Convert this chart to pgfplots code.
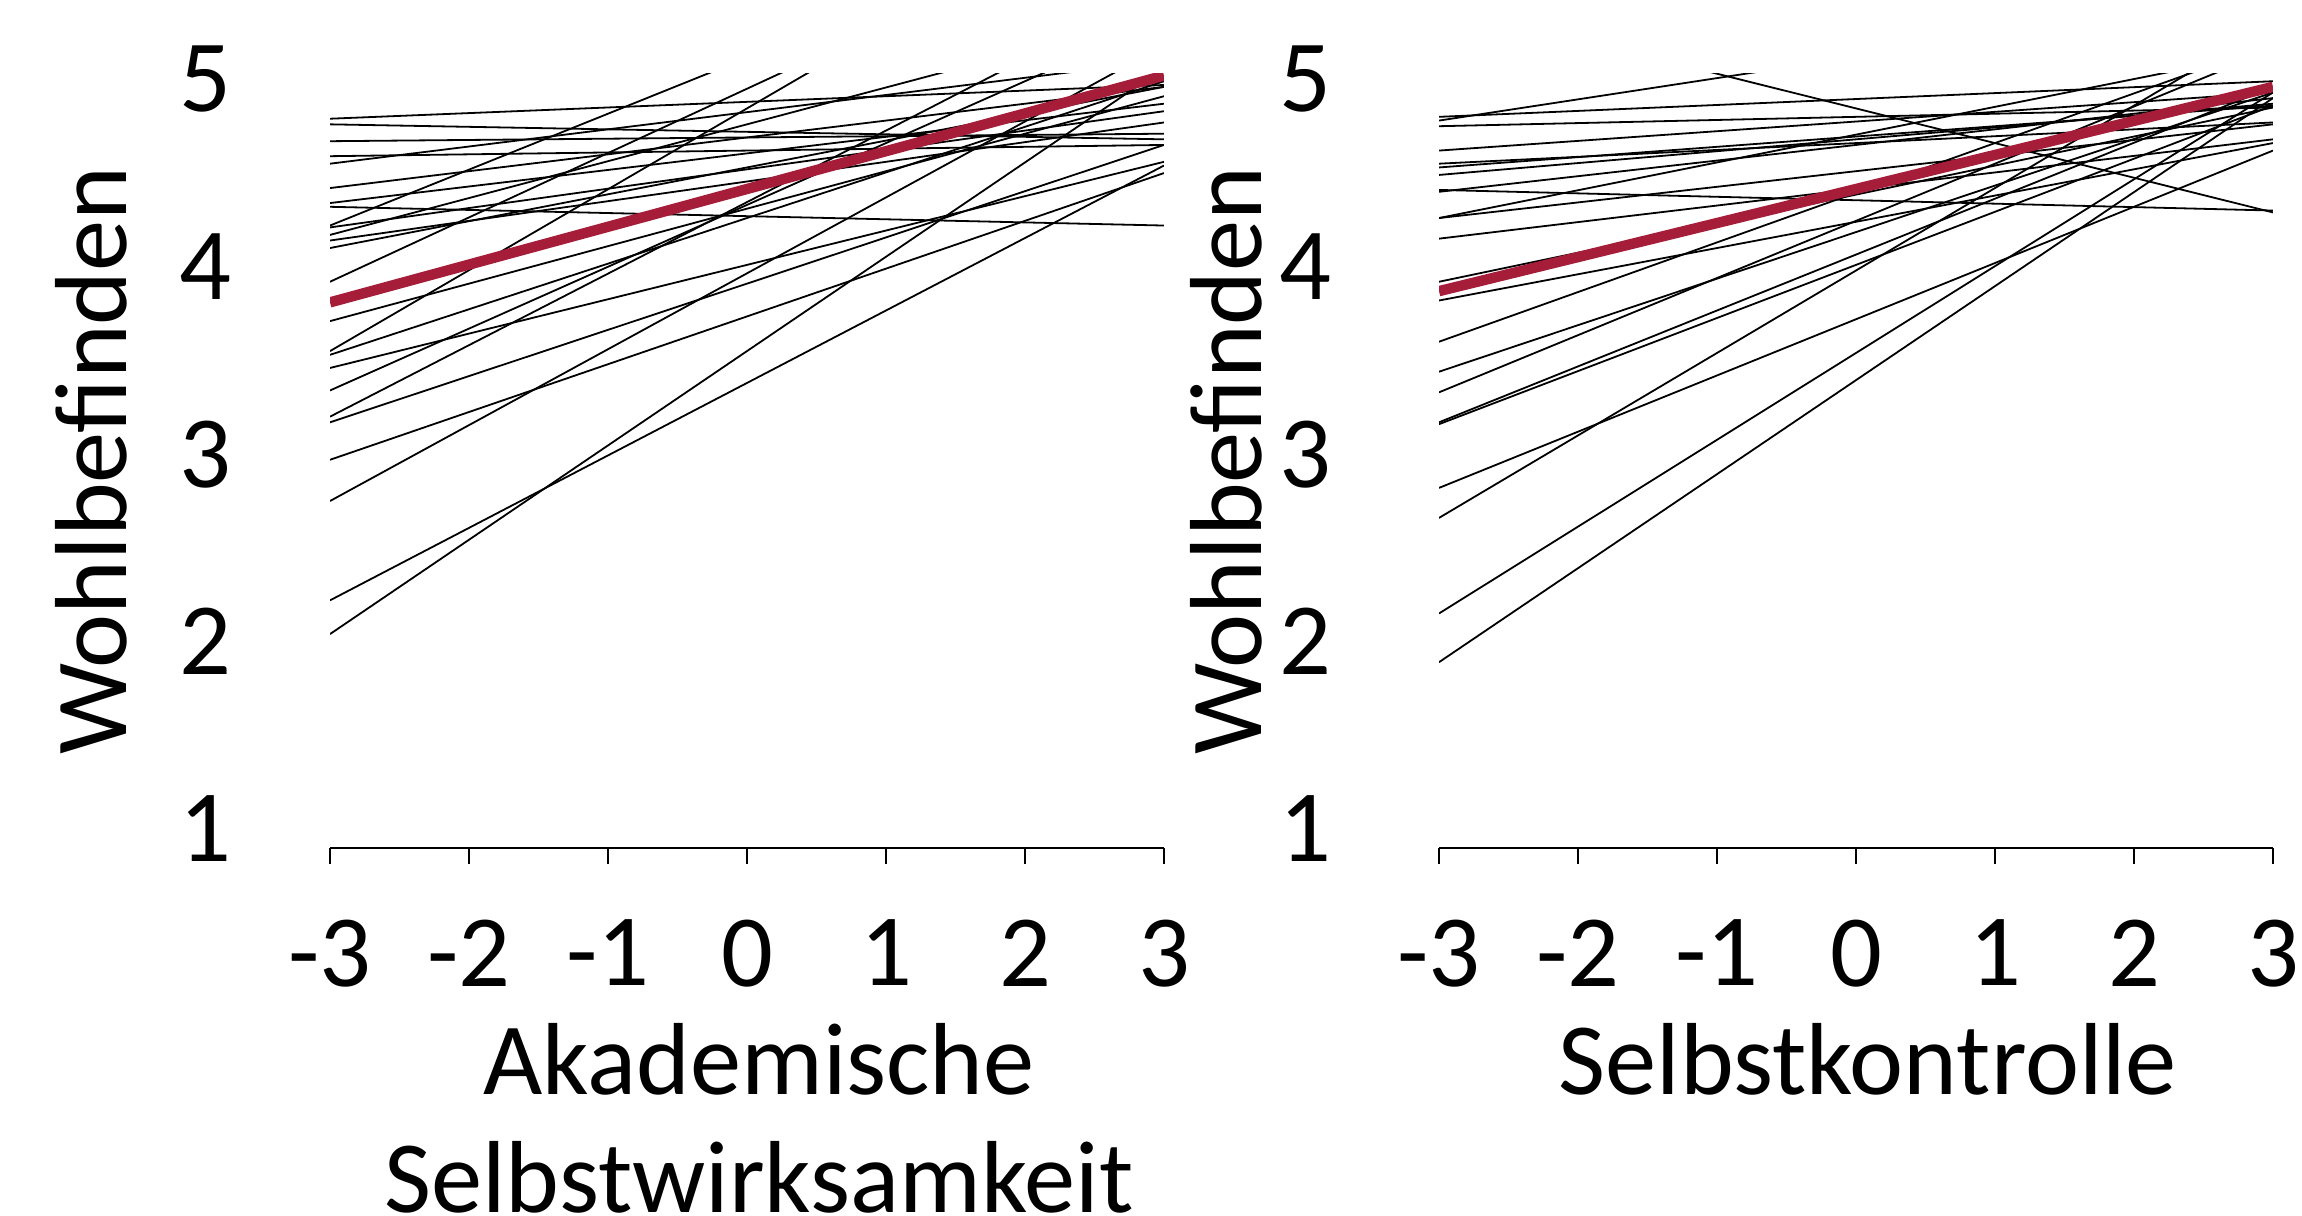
\documentclass[border=0pt]{standalone}
\usepackage{fontspec}
\setmainfont{Carlito}
\usepackage{pgfplots}
\pgfplotsset{compat=1.18}
\definecolor{fixred}{RGB}{166,29,57}

\pgfplotsset{
  panel/.style={
    scale only axis, width=208.5pt, height=193.5pt,
    xmin=-3, xmax=3, ymin=0.9, ymax=5.03,
    xtick={-3,-2,-1,0,1,2,3}, xticklabels={-3,-2,-1,0,1,2,3},
    ytick={1,2,3,4,5}, yticklabels={1,2,3,4,5},
    axis x line=bottom, axis y line=left,
    axis line style={-, black, line width=0.5pt},
    y axis line style={draw=none},
    ytick style={draw=none},
    xtick style={black, line width=0.5pt},
    tick align=outside, major tick length=4pt,
    tick label style={font=\fontsize{25.6}{30}\selectfont},
    label style={font=\fontsize{25.6}{29.5}\selectfont},
    xticklabel style={anchor=north, inner sep=0pt, yshift=-13.8pt},
    xlabel style={at={(axis description cs:0.5,0)}, anchor=north,
                  align=center, inner sep=0pt, yshift=-43.8pt, xshift=3pt},
  },
  person/.style={black, line width=0.45pt, no marks},
  fixed/.style={fixred, line width=2.6pt, no marks},
}

\begin{document}
\begin{tikzpicture}
\useasboundingbox (0,0) rectangle (575.5pt,304pt);

% Akademische Selbstwirksamkeit
\begin{axis}[panel,
  at={(82.5pt,92.06pt)}, anchor=south west,
  yticklabel style={anchor=east, inner sep=0pt, xshift=-20.5pt},
  ylabel={Wohlbefinden},
  ylabel style={at={(axis description cs:-0.2866,0.5)}, anchor=center},
  xlabel={Akademische\\Selbstwirksamkeit},
]
\addplot[person] coordinates {(-3,4.79) (3,4.97)};
\addplot[person] coordinates {(-3,4.76) (3,4.68)};
\addplot[person] coordinates {(-3,4.67) (3,4.71)};
\addplot[person] coordinates {(-3,4.59) (3,4.65)};
\addplot[person] coordinates {(-3,4.55) (3,5.10)};
\addplot[person] coordinates {(-3,4.42) (3,4.96)};
\addplot[person] coordinates {(-3,4.34) (3,4.87)};
\addplot[person] coordinates {(-3,4.32) (3,4.22)};
\addplot[person] coordinates {(-3,4.22) (3,6.01)};
\addplot[person] coordinates {(-3,4.21) (3,4.83)};
\addplot[person] coordinates {(-3,4.17) (3,5.35)};
\addplot[person] coordinates {(-3,4.14) (3,4.77)};
\addplot[person] coordinates {(-3,4.10) (3,4.96)};
\addplot[person] coordinates {(-3,3.92) (3,5.98)};
\addplot[person] coordinates {(-3,3.71) (3,4.91)};
\addplot[person] coordinates {(-3,3.55) (3,6.14)};
\addplot[person] coordinates {(-3,3.53) (3,4.99)};
\addplot[person] coordinates {(-3,3.46) (3,4.56)};
\addplot[person] coordinates {(-3,3.34) (3,5.32)};
\addplot[person] coordinates {(-3,3.20) (3,5.49)};
\addplot[person] coordinates {(-3,3.17) (3,4.65)};
\addplot[person] coordinates {(-3,2.97) (3,4.50)};
\addplot[person] coordinates {(-3,2.75) (3,5.18)};
\addplot[person] coordinates {(-3,2.22) (3,4.54)};
\addplot[person] coordinates {(-3,2.04) (3,5.06)};
\addplot[fixed] coordinates {(-3,3.81) (3,5.02)};
\end{axis}

% Selbstkontrolle
\begin{axis}[panel,
  at={(359.75pt,92.06pt)}, anchor=south west,
  yticklabel style={anchor=east, inner sep=0pt, xshift=-22.75pt},
  ylabel={Wohlbefinden},
  ylabel style={at={(axis description cs:-0.2554,0.5)}, anchor=center},
  xlabel={Selbstkontrolle},
]
\addplot[person] coordinates {(-3,4.80) (3,4.99)};
\addplot[person] coordinates {(-3,4.78) (3,5.46)};
\addplot[person] coordinates {(-3,4.75) (3,4.85)};
\addplot[person] coordinates {(-3,4.62) (3,4.93)};
\addplot[person] coordinates {(-3,4.55) (3,4.77)};
\addplot[person] coordinates {(-3,4.53) (3,4.86)};
\addplot[person] coordinates {(-3,4.49) (3,4.87)};
\addplot[person] coordinates {(-3,4.41) (3,4.30)};
\addplot[person] coordinates {(-3,4.40) (3,4.90)};
\addplot[person] coordinates {(-3,4.26) (3,4.76)};
\addplot[person] coordinates {(-3,4.26) (3,5.15)};
\addplot[person] coordinates {(-3,4.15) (3,4.68)};
\addplot[person] coordinates {(-3,3.92) (3,4.85)};
\addplot[person] coordinates {(-3,3.82) (3,4.66)};
\addplot[person] coordinates {(-3,3.60) (3,5.19)};
\addplot[person] coordinates {(-3,3.44) (3,4.93)};
\addplot[person] coordinates {(-3,3.33) (3,5.16)};
\addplot[person] coordinates {(-3,3.17) (3,4.96)};
\addplot[person] coordinates {(-3,3.16) (3,4.86)};
\addplot[person] coordinates {(-3,2.82) (3,4.62)};
\addplot[person] coordinates {(-3,2.66) (3,5.30)};
\addplot[person] coordinates {(-3,2.15) (3,4.93)};
\addplot[person] coordinates {(-3,1.89) (3,4.90)};
\addplot[person] coordinates {(-3,5.40) (3,4.29)};
\addplot[fixed] coordinates {(-3,3.87) (3,4.96)};
\end{axis}
\end{tikzpicture}
\end{document}
